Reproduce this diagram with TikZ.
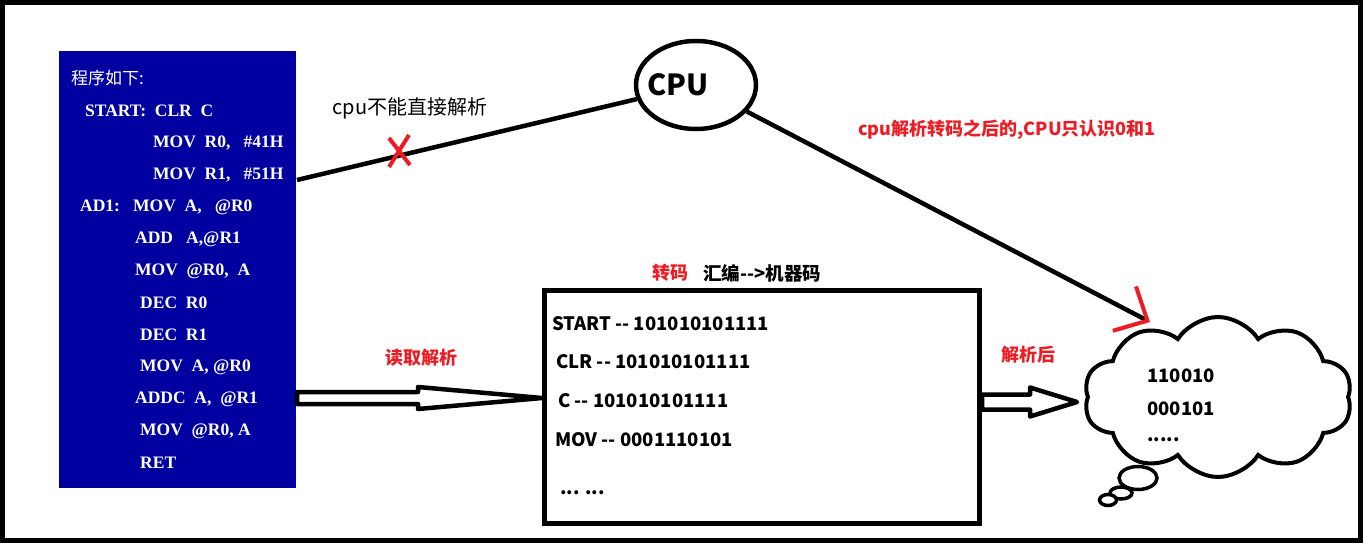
\documentclass[tikz,border=0pt]{standalone}
\usepackage{fontspec}
\newfontfamily\yahei{Noto Sans CJK SC}
\newfontfamily\progfont{Liberation Serif}
\usetikzlibrary{arrows.meta,calc,shapes.geometric,shapes.symbols}
\definecolor{progblue}{RGB}{0,0,160}
\definecolor{markred}{RGB}{237,28,36}

\tikzset{
  wire/.style={line width=4.5pt},
  hollow/.style={line width=4.5pt,fill=white,line join=round},
  note/.style={font=\fontsize{18}{21}\selectfont\yahei\bfseries,text=markred,inner sep=0pt},
  codeline/.style={font=\fontsize{18.5}{21}\selectfont\yahei\bfseries,anchor=west,inner sep=0pt},
  progline/.style={font=\fontsize{17.5}{20}\selectfont\progfont\bfseries,text=white,anchor=west,inner sep=0pt},
  bubble/.style={draw,ellipse,line width=3.5pt,fill=white,inner sep=0pt},
}
% hollow block arrow: start, end, shaft half width, head half width, head length
\newcommand{\hollowarrow}[5]{%
  \draw[hollow] let \p1=(#1), \p2=(#2) in
    (\x1,\y1+#3) -- (\x2-#5,\y1+#3) -- (\x2-#5,\y1+#4) -- (\x2,\y1)
    -- (\x2-#5,\y1-#4) -- (\x2-#5,\y1-#3) -- (\x1,\y1-#3) -- cycle;}

\begin{document}
\begin{tikzpicture}[x=1pt,y=-1pt]
  \useasboundingbox (0,0) rectangle (1365,543);
  \draw[line width=5pt] (2.5,2.5) rectangle (1360,540);

  % the listing on its blue slide
  \node[fill=progblue,minimum width=237pt,minimum height=437pt,anchor=north west,inner sep=0pt] (prog) at (59,51) {};
  \node[progline,font=\fontsize{17}{20}\selectfont\yahei] (p0) at (71,78) {程序如下:};
  \node[progline] (p1) at (85,111) {START:~~CLR~~C};
  \node[progline] (p2) at (153,143) {MOV~~R0,~~~\#41H};
  \node[progline] (p3) at (153,175) {MOV~~R1,~~~\#51H};
  \node[progline] (p4) at (80,207) {AD1:~~~MOV~~A,~~~@R0};
  \node[progline] (p5) at (135,239) {ADD~~~A,@R1};
  \node[progline] (p6) at (135,271) {MOV~~@R0,~~A};
  \node[progline] (p7) at (140,303) {DEC~~R0};
  \node[progline] (p8) at (140,335) {DEC~~R1};
  \node[progline] (p9) at (140,367) {MOV~~A,~@R0};
  \node[progline] (p10) at (135,399) {ADDC~~A,~~@R1};
  \node[progline] (p11) at (140,431) {MOV~~@R0,~A};
  \node[progline] (p12) at (140,463) {RET};

  % cpu
  \node[draw,ellipse,line width=4.5pt,minimum width=120pt,minimum height=88pt,
        label={[xshift=-18pt,font=\fontsize{29}{32}\selectfont\yahei\bfseries]center:CPU}] (cpu) at (696,85) {};

  % direct path, refused
  \coordinate (srcL) at (297,180);
  \draw[wire] (srcL) -- (cpu);
  \draw[line width=4pt,markred] (389,138) -- (410,165) (409,135) -- (389,167);
  \node[font=\fontsize{20}{23}\selectfont\yahei] (refuse) at (410,108) {cpu不能直接解析};

  % conversion box
  \node[draw,line width=5pt,minimum width=435pt,minimum height=233pt,inner sep=0pt] (conv) at (762,407) {};
  \node[note] (convtag) at (670,273) {转码};
  \node[codeline,text=black] (convsub) at (703,273) {汇编-->机器码};
  \node[codeline] (c1) at (552,324) {START -- 101010101111};
  \node[codeline] (c2) at (556,362) {CLR -- 101010101111};
  \node[codeline] (c3) at (558,401) {C -- 101010101111};
  \node[codeline] (c4) at (555,440) {MOV -- 0001110101};
  \node[codeline] (c5) at (560,493) {... ...};

  % result cloud
  \node[cloud,draw,line width=4pt,cloud puffs=10,cloud puff arc=115,aspect=1.7,
        minimum width=268pt,minimum height=160pt,inner sep=0pt] (cloud) at (1218,397) {};
  \node[bubble,minimum width=38pt,minimum height=23pt] (bub1) at (1138,478) {};
  \node[bubble,minimum width=22pt,minimum height=12pt] (bub2) at (1121,493) {};
  \node[bubble,minimum width=17pt,minimum height=11pt] (bub3) at (1108,500) {};
  \node[codeline] (b1) at (1147,376) {110010};
  \node[codeline] (b2) at (1147,409) {000101};
  \node[codeline] (b3) at (1147,440) {.....};

  % read, then parse
  \coordinate (readL) at (297,398);
  \coordinate (readR) at (conv.west |- readL);
  \hollowarrow{readL}{readR}{6}{11}{124}
  \node[note] (readtag) at (421,358) {读取解析};
  \coordinate (outL) at (982,402);
  \coordinate (outR) at (1077,402);
  \hollowarrow{outL}{outR}{7.5}{14.5}{47}
  \node[note] (outtag) at (1028,355) {解析后};

  % cpu gets only the bits
  \coordinate (tip) at (1150,322);
  \draw[wire,-{Straight Barb[markred,length=26pt,width=50pt,line width=4pt]}] (cpu) -- (tip);
  \node[note,anchor=west] (bitstag) at (858,130) {cpu解析转码之后的,CPU只认识0和1};
\end{tikzpicture}
\end{document}
